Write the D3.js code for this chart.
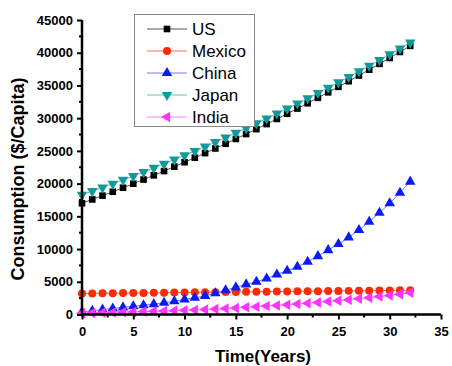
<!DOCTYPE html>
<html>
<head>
<meta charset="utf-8">
<script src="https://cdn.jsdelivr.net/npm/d3@7"></script>
<style>
  body { margin: 0; background: #fff; }
  svg { display: block; }
</style>
</head>
<body>
<script>
// years 0..32
const years = d3.range(0, 33);

const usValues = [17000, 17580, 18160, 18760, 19370, 19990, 20620, 21270, 21920, 22590,
  23270, 23960, 24660, 25370, 26090, 26830, 27570, 28330, 29100, 29880,
  30670, 31470, 32280, 33110, 33950, 34790, 35650, 36520, 37410, 38300,
  39200, 40120, 41050];
const mexicoValues = [3200, 3220, 3240, 3250, 3270, 3290, 3300, 3320, 3340, 3350,
  3370, 3390, 3400, 3420, 3430, 3450, 3460, 3480, 3490, 3510,
  3520, 3540, 3550, 3570, 3580, 3600, 3610, 3630, 3640, 3660,
  3670, 3690, 3700];
const chinaValues = [400, 550, 750, 920, 1080, 1260, 1420, 1590, 1790, 2030,
  2290, 2550, 2850, 3250, 3700, 4150, 4600, 5000, 5500, 6100,
  6680, 7290, 8060, 8920, 9840, 10760, 11780, 12900, 14170, 15550,
  16990, 18610, 20300];
const japanValues = [18300, 18860, 19410, 19990, 20570, 21170, 21770, 22400, 23020, 23670,
  24320, 24990, 25660, 26350, 27040, 27760, 28470, 29210, 29950, 30710,
  31470, 32250, 33030, 33840, 34650, 35470, 36300, 37150, 38010, 38880,
  39750, 40650, 41550];
const indiaValues = [200, 240, 280, 320, 360, 400, 440, 490, 540, 590,
  640, 700, 760, 840, 920, 1010, 1100, 1190, 1290, 1390,
  1500, 1610, 1730, 1850, 1980, 2120, 2260, 2410, 2570, 2740,
  2920, 3110, 3310];

const seriesNames = ["US", "Mexico", "China", "Japan", "India"];
const xTicks = [0, 5, 10, 15, 20, 25, 30, 35];
const yTicks = [0, 5000, 10000, 15000, 20000, 25000, 30000, 35000, 40000, 45000];

const series = [
  { name: "US", values: usValues, color: "#000000", line: "#555555", symbol: d3.symbolSquare, size: 44, rot: 0 },
  { name: "Mexico", values: mexicoValues, color: "#ff2a00", line: "#ff6666", symbol: d3.symbolCircle, size: 50, rot: 0 },
  { name: "China", values: chinaValues, color: "#0a1cf0", line: "#6f7dff", symbol: d3.symbolTriangle, size: 48, rot: 0 },
  { name: "Japan", values: japanValues, color: "#109a9a", line: "#5cc0c0", symbol: d3.symbolTriangle, size: 48, rot: 180 },
  { name: "India", values: indiaValues, color: "#ff33ff", line: "#ff77ff", symbol: d3.symbolTriangle, size: 48, rot: -90 }
];

const W = 452, H = 366;
const svg = d3.select("body").append("svg").attr("width", W).attr("height", H);

const x = d3.scaleLinear().domain([0, 35]).range([82, 441]);
const y = d3.scaleLinear().domain([0, 45000]).range([314.5, 20]);

// data
const plot = svg.append("g");
series.forEach(s => {
  const pts = years.map((t, i) => [t, s.values[i]]);
  plot.append("path")
    .attr("d", d3.line().x(d => x(d[0])).y(d => y(d[1]))(pts))
    .attr("fill", "none")
    .attr("stroke", s.line)
    .attr("stroke-width", 1);
  plot.append("g").selectAll("path")
    .data(pts)
    .join("path")
      .attr("d", d3.symbol().type(s.symbol).size(s.size))
      .attr("transform", d => `translate(${x(d[0])},${y(d[1])}) rotate(${s.rot})`)
      .attr("fill", s.color);
});

// axes
const font = "'Liberation Sans', Arial, sans-serif";

const xMinor = d3.range(0, 35.01, 2.5).filter(v => v % 5 !== 0);
const yMinor = d3.range(0, 45001, 2500).filter(v => v % 5000 !== 0);

const gx = svg.append("g").attr("transform", `translate(0,${y(0)})`);
gx.call(d3.axisBottom(x).tickValues(xTicks).tickSize(5).tickPadding(7).tickFormat(d3.format("d")));
gx.append("g").selectAll("line")
  .data(xMinor)
  .join("line")
    .attr("x1", d => x(d)).attr("x2", d => x(d))
    .attr("y1", 0).attr("y2", 3)
    .attr("stroke", "#000").attr("stroke-width", 2);

const gy = svg.append("g").attr("transform", `translate(${x(0)},0)`);
gy.call(d3.axisLeft(y).tickValues(yTicks).tickSize(5).tickPadding(4).tickFormat(d3.format("d")));
gy.append("g").selectAll("line")
  .data(yMinor)
  .join("line")
    .attr("y1", d => y(d)).attr("y2", d => y(d))
    .attr("x1", 0).attr("x2", -3)
    .attr("stroke", "#000").attr("stroke-width", 2);

[gx, gy].forEach(g => {
  g.select(".domain").attr("stroke", "#000").attr("stroke-width", 2.5);
  g.selectAll(".tick line").attr("stroke", "#000").attr("stroke-width", 2);
  g.selectAll(".tick text")
    .attr("fill", "#000")
    .attr("font-family", font)
    .attr("font-weight", "bold")
    .attr("font-size", 13);
});
gx.select(".domain").attr("d", `M${x(0)},0H${x(35)}`);
gy.select(".domain").attr("d", `M0,${y(45000)}V${y(0)}`);

// titles
svg.append("text")
  .attr("x", 263).attr("y", 362)
  .attr("text-anchor", "middle")
  .attr("font-family", font).attr("font-weight", "bold").attr("font-size", 17)
  .text("Time(Years)");

svg.append("text")
  .attr("transform", "translate(24,179) rotate(-90)")
  .attr("text-anchor", "middle")
  .attr("font-family", font).attr("font-weight", "bold").attr("font-size", 18)
  .text("Consumption ($/Capita)");

// legend
const legend = svg.append("g");
legend.append("rect")
  .attr("x", 134.5).attr("y", 14.5).attr("width", 120).attr("height", 112)
  .attr("fill", "#fff").attr("stroke", "#888").attr("stroke-width", 1);

const rowY = d3.scalePoint().domain(seriesNames).range([29, 117]);
series.forEach(s => {
  const ry = rowY(s.name);
  legend.append("line")
    .attr("x1", 147).attr("x2", 187).attr("y1", ry).attr("y2", ry)
    .attr("stroke", s.line).attr("stroke-width", 1);
  legend.append("path")
    .attr("d", d3.symbol().type(s.symbol).size(s.size))
    .attr("transform", `translate(167,${ry}) rotate(${s.rot})`)
    .attr("fill", s.color);
  legend.append("text")
    .attr("x", 192).attr("y", ry)
    .attr("dy", "0.36em")
    .attr("font-family", font).attr("font-size", 17)
    .attr("fill", "#000")
    .text(s.name);
});
</script>
</body>
</html>
